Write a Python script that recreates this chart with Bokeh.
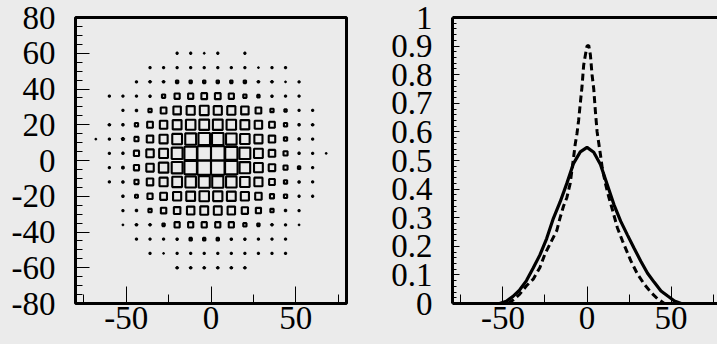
import numpy as np
from bokeh.plotting import figure
from bokeh.layouts import row
from bokeh.models import FixedTicker, CustomJSTickFormatter, LinearAxis
from bokeh.embed import file_html
from bokeh.resources import INLINE

# ---------------- data ----------------
# 2D histogram (box drawing): bin centres and contents
x_centers = [-68, -60, -52, -44, -36, -28, -20, -12, -4, 4, 12, 20, 28, 36, 44, 52, 60, 68]
y_centers = [60, 52, 44, 36, 28, 20, 12, 4, -4, -12, -20, -28, -36, -44, -52, -60]
bin_width = 8.0
box_counts = [
    [0, 0, 0, 0, 0, 0, 3, 3, 1, 3, 0, 3, 0, 0, 0, 0, 0, 0],
    [0, 0, 0, 0, 3, 3, 3, 3, 3, 3, 3, 3, 1, 3, 3, 0, 0, 0],
    [0, 0, 0, 3, 4, 4, 12, 12, 12, 12, 12, 12, 4, 4, 1, 3, 0, 0],
    [0, 3, 3, 3, 4, 23, 58, 58, 71, 71, 58, 23, 12, 4, 3, 3, 0, 0],
    [0, 0, 3, 4, 23, 71, 121, 144, 169, 144, 144, 121, 71, 23, 12, 3, 3, 0],
    [0, 3, 4, 23, 71, 121, 169, 196, 207, 207, 196, 169, 121, 71, 23, 4, 3, 0],
    [1, 3, 6, 36, 92, 144, 207, 256, 289, 289, 243, 196, 144, 92, 23, 4, 3, 0],
    [0, 3, 4, 58, 121, 169, 256, 339, 400, 400, 324, 256, 169, 92, 36, 4, 3, 1],
    [0, 3, 6, 58, 121, 196, 256, 339, 400, 400, 339, 243, 169, 92, 36, 12, 3, 0],
    [0, 3, 4, 36, 92, 144, 207, 243, 269, 269, 243, 196, 144, 71, 23, 4, 3, 0],
    [0, 0, 4, 18, 58, 100, 144, 169, 196, 185, 169, 144, 92, 36, 23, 3, 3, 0],
    [0, 0, 3, 4, 23, 64, 92, 121, 135, 135, 121, 85, 58, 23, 4, 3, 0, 0],
    [0, 0, 1, 4, 4, 12, 58, 58, 58, 58, 58, 23, 12, 4, 3, 1, 0, 0],
    [0, 0, 0, 3, 3, 3, 4, 12, 12, 12, 4, 4, 3, 3, 3, 0, 0, 0],
    [0, 0, 0, 0, 3, 1, 3, 3, 3, 3, 3, 3, 3, 3, 3, 0, 0, 0],
    [0, 0, 0, 0, 0, 0, 3, 3, 3, 3, 3, 3, 0, 0, 0, 0, 0, 0],
]

# projections (right panel)
solid_x = [-52, -48, -44, -40, -36, -32, -28, -24, -20, -16, -12, -8, -4, 0,
           4, 8, 12, 16, 20, 24, 28, 32, 36, 40, 44, 48, 52, 56]
solid_y = [0.0, 0.008, 0.025, 0.048, 0.08, 0.124, 0.17, 0.227, 0.298, 0.355, 0.42, 0.49, 0.53, 0.546,
           0.529, 0.486, 0.416, 0.346, 0.288, 0.24, 0.193, 0.148, 0.106, 0.074, 0.044, 0.026, 0.009, 0.0]

dash_x = [-47, -44, -40, -36, -32, -28, -25, -21, -18, -16, -14, -12, -10, -8, -7, -6, -5, -4, -3, -2, -1, 0,
          1, 2, 3, 4, 5, 6, 7, 8, 9, 11, 13, 15, 18, 21, 26, 30, 34, 38, 42, 46]
dash_y = [0.0, 0.012, 0.033, 0.062, 0.085, 0.126, 0.173, 0.22, 0.255, 0.30, 0.34, 0.37, 0.42, 0.51, 0.558, 0.593,
          0.64, 0.70, 0.757, 0.833, 0.868, 0.90,
          0.903, 0.87, 0.80, 0.75, 0.67, 0.60, 0.56, 0.52, 0.476, 0.418, 0.371, 0.33, 0.266, 0.22, 0.15, 0.103,
          0.068, 0.039, 0.016, 0.0]

# axis ticks
left_x_ticks = [-50, 0, 50]
left_x_minor = [-75, -25, 25, 75]
left_y_ticks = [-80, -60, -40, -20, 0, 20, 40, 60, 80]
left_y_minor = [v for v in range(-80, 81, 5)]
right_x_ticks = [-50, 0, 50]
right_x_minor = [-75, -25, 25, 75]
right_y_ticks = [0, 0.1, 0.2, 0.3, 0.4, 0.5, 0.6, 0.7, 0.8, 0.9, 1]
right_y_minor = [round(i * 0.02, 2) for i in range(0, 51)]

# ---------------- style ----------------
BG = "#ebebeb"
FONT = "Liberation Serif"
FSIZE = "33px"

int_fmt = CustomJSTickFormatter(code="return (tick < 0 ? '-' : '') + Math.abs(Math.round(tick)).toString();")
dec_fmt = CustomJSTickFormatter(code="return String(Math.round(tick * 10) / 10);")


def style_axis(ax, major_in, minor_in):
    ax.major_tick_in = major_in
    ax.major_tick_out = 0
    ax.minor_tick_in = minor_in
    ax.minor_tick_out = 0
    ax.major_tick_line_color = "black"
    ax.minor_tick_line_color = "black"
    ax.major_tick_line_width = 1
    ax.minor_tick_line_width = 1
    ax.major_label_text_font = FONT
    ax.major_label_text_font_size = FSIZE
    ax.major_label_text_color = "black"


# ---------------- left panel ----------------
p1 = figure(width=358, height=344, x_range=(-80, 80), y_range=(-80, 80),
            output_backend="svg", toolbar_location=None,
            min_border_left=75, min_border_right=12, min_border_top=17, min_border_bottom=41)
p1.background_fill_color = BG
p1.border_fill_color = BG
p1.outline_line_color = "black"
p1.outline_line_width = 3
p1.grid.visible = False

counts = np.array(box_counts, dtype=float)
cmax = counts.max()
bx, by, bw, bh = [], [], [], []
for j, yc in enumerate(y_centers):
    for i, xc in enumerate(x_centers):
        c = counts[j, i]
        if c > 0:
            s = bin_width * np.sqrt(c / cmax)
            bx.append(xc); by.append(yc); bw.append(s); bh.append(s)
p1.rect(x=bx, y=by, width=bw, height=bh, fill_color=None, line_color="black", line_width=2.1)

p1.xaxis.ticker = FixedTicker(ticks=left_x_ticks, minor_ticks=left_x_minor)
p1.yaxis.ticker = FixedTicker(ticks=left_y_ticks, minor_ticks=left_y_minor)
p1.xaxis.formatter = int_fmt
p1.yaxis.formatter = int_fmt
for ax in p1.xaxis:
    style_axis(ax, 17, 9)
    ax.axis_line_color = None
    ax.major_label_standoff = 3
for ax in p1.yaxis:
    style_axis(ax, 14, 7)
    ax.axis_line_color = None
    ax.major_label_standoff = 20

# ---------------- right panel ----------------
p2 = figure(width=359, height=344, x_range=(-80, 77.6), y_range=(0, 1),
            output_backend="svg", toolbar_location=None,
            min_border_left=94, min_border_right=0, min_border_top=17, min_border_bottom=41)
p2.background_fill_color = BG
p2.border_fill_color = BG
p2.outline_line_color = None
p2.grid.visible = False

p2.line(solid_x, solid_y, line_color="black", line_width=3.2)
p2.line(dash_x, dash_y, line_color="black", line_width=3, line_dash="7 4")

p2.xaxis.ticker = FixedTicker(ticks=right_x_ticks, minor_ticks=right_x_minor)
p2.yaxis.ticker = FixedTicker(ticks=right_y_ticks, minor_ticks=right_y_minor)
p2.xaxis.formatter = int_fmt
p2.yaxis.formatter = dec_fmt
for ax in p2.xaxis:
    style_axis(ax, 17, 9)
    ax.axis_line_color = "black"
    ax.axis_line_width = 3
    ax.major_label_standoff = 3
for ax in p2.yaxis:
    style_axis(ax, 7, 4)
    ax.axis_line_color = "black"
    ax.axis_line_width = 3
    ax.major_label_standoff = 20

top = LinearAxis(ticker=FixedTicker(ticks=[]), axis_line_color="black", axis_line_width=3,
                 major_tick_line_color=None, minor_tick_line_color=None,
                 major_label_text_font_size="0px")
p2.add_layout(top, "above")

layout = row(p1, p2, spacing=0, styles={"background-color": BG})
html = file_html(layout, INLINE)
html = html.replace("<body>", '<body style="background:%s;margin:0">' % BG, 1)
open("out.html", "w").write(html)
